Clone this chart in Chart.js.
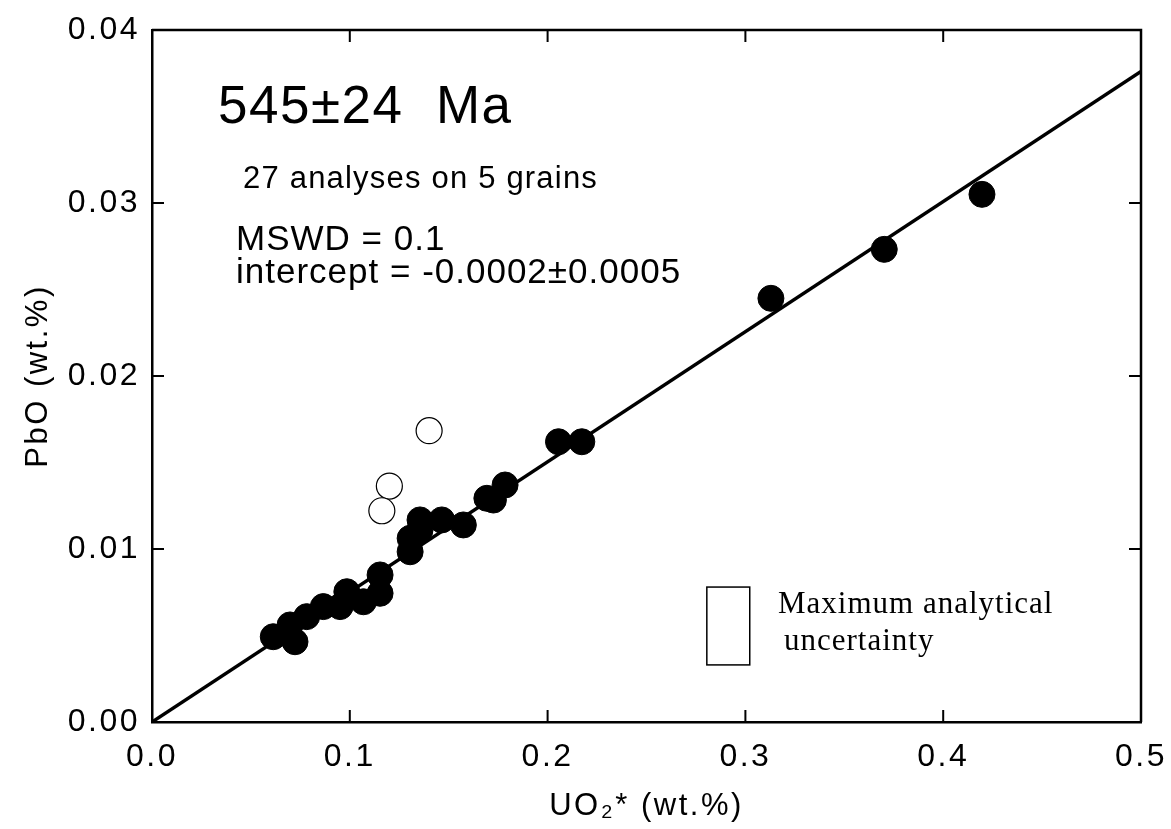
<!DOCTYPE html>
<html>
<head>
<meta charset="utf-8">
<script src="https://cdn.jsdelivr.net/npm/chart.js@4/dist/chart.umd.min.js"></script>
<style>
  body { margin: 0; background: #fff; }
</style>
</head>
<body>
<canvas id="pbChart" width="1171" height="829"></canvas>
<script>
// Analizler (wt.%) - dolu daireler: regresyona giren noktalar
const filledUO2 = [0.0613, 0.0723, 0.0698, 0.0782, 0.0866, 0.0951, 0.0985, 0.1069, 0.1153, 0.1153,
                   0.1305, 0.1305, 0.1355, 0.1355, 0.1465, 0.1574, 0.1693, 0.1726, 0.1785,
                   0.2055, 0.2173, 0.3129, 0.3702, 0.4196];
const filledPbO = [0.00493, 0.00464, 0.00561, 0.00609, 0.00667, 0.00667, 0.00753, 0.00695, 0.00744, 0.00850,
                   0.00984, 0.01062, 0.01110, 0.01168, 0.01168, 0.01139, 0.01293, 0.01283, 0.01370,
                   0.01620, 0.01620, 0.02449, 0.02732, 0.03050];

// Açık daireler: hesaba katılmayan analizler
const openUO2 = [0.1401, 0.1200, 0.1162];
const openPbO = [0.01684, 0.01364, 0.01221];

// İzokron doğrusu
const lineUO2 = [0, 0.5];
const linePbO = [0, 0.0376];

// Maksimum analitik belirsizlik kutusu (veri birimi)
const uncUO2 = [0.2805, 0.3022];
const uncPbO = [0.00330, 0.00780];

// Eksen etiketleri
const xTickLabels = ['0.0', '0.1', '0.2', '0.3', '0.4', '0.5'];
const yTickLabels = ['0.00', '0.01', '0.02', '0.03', '0.04'];
const xInnerTicks = [0.1, 0.2, 0.3, 0.4];
const yInnerTicks = [0.01, 0.02, 0.03];

const toPoints = (xs, ys) => xs.map((x, i) => ({ x: x, y: ys[i] }));

// Çerçeve, iç çentikler ve metinler
const framePlugin = {
    id: 'frame',
    beforeDraw(chart) {
        chart.ctx.letterSpacing = '2.5px';
    },
    beforeDatasetsDraw(chart) {
        chart.ctx.letterSpacing = '0px';
    },
    afterDraw(chart) {
        const ctx = chart.ctx;
        const a = chart.chartArea;
        const xs = chart.scales.x;
        const ys = chart.scales.y;
        ctx.save();
        ctx.letterSpacing = '0px';
        ctx.strokeStyle = '#000';

        // üst ve sağ kenar
        ctx.lineWidth = 2.5;
        ctx.beginPath();
        ctx.moveTo(a.left, a.top);
        ctx.lineTo(a.right, a.top);
        ctx.lineTo(a.right, a.bottom);
        ctx.stroke();

        // içe dönük çentikler
        ctx.lineWidth = 2;
        ctx.beginPath();
        xInnerTicks.forEach(v => {
            const px = xs.getPixelForValue(v);
            ctx.moveTo(px, a.bottom); ctx.lineTo(px, a.bottom - 12);
            ctx.moveTo(px, a.top); ctx.lineTo(px, a.top + 12);
        });
        yInnerTicks.forEach(v => {
            const py = ys.getPixelForValue(v);
            ctx.moveTo(a.left, py); ctx.lineTo(a.left + 12, py);
            ctx.moveTo(a.right, py); ctx.lineTo(a.right - 12, py);
        });
        ctx.stroke();

        // belirsizlik kutusu
        const bx0 = xs.getPixelForValue(uncUO2[0]);
        const bx1 = xs.getPixelForValue(uncUO2[1]);
        const by0 = ys.getPixelForValue(uncPbO[1]);
        const by1 = ys.getPixelForValue(uncPbO[0]);
        ctx.lineWidth = 1.5;
        ctx.strokeRect(bx0, by0, bx1 - bx0, by1 - by0);

        ctx.fillStyle = '#000';
        ctx.textAlign = 'left';
        ctx.textBaseline = 'alphabetic';

        ctx.font = '31px "Liberation Serif", "Times New Roman", serif';
        ctx.letterSpacing = '1px';
        ctx.fillText('Maximum analytical', 778, 613);
        ctx.fillText('uncertainty', 784, 650);

        ctx.font = '53px "Liberation Sans", Arial, sans-serif';
        ctx.letterSpacing = '1.5px';
        ctx.fillText('545±24  Ma', 218, 123);

        ctx.font = '31px "Liberation Sans", Arial, sans-serif';
        ctx.letterSpacing = '1.2px';
        ctx.fillText('27 analyses on 5 grains', 243, 188);

        ctx.font = '35px "Liberation Sans", Arial, sans-serif';
        ctx.letterSpacing = '1px';
        ctx.fillText('MSWD = 0.1', 236, 250);
        ctx.fillText('intercept = -0.0002±0.0005', 236, 283);

        ctx.restore();
    }
};

const ctx = document.getElementById('pbChart').getContext('2d');
new Chart(ctx, {
    type: 'scatter',
    data: {
        datasets: [
            {
                label: 'Open',
                data: toPoints(openUO2, openPbO),
                pointRadius: 13,
                pointBackgroundColor: '#fff',
                pointBorderColor: '#000',
                pointBorderWidth: 1.2,
                order: 1
            },
            {
                label: 'Filled',
                data: toPoints(filledUO2, filledPbO),
                pointRadius: 13,
                pointBackgroundColor: '#000',
                pointBorderColor: '#000',
                pointBorderWidth: 1,
                order: 2
            },
            {
                type: 'line',
                label: 'Isochron',
                data: toPoints(lineUO2, linePbO),
                borderColor: '#000',
                borderWidth: 3.5,
                pointRadius: 0,
                fill: false,
                order: 0
            }
        ]
    },
    options: {
        responsive: false,
        animation: false,
        layout: { padding: { top: 30, right: 30, left: 0, bottom: 0 } },
        plugins: {
            legend: { display: false },
            tooltip: { enabled: false }
        },
        scales: {
            x: {
                type: 'linear',
                min: 0,
                max: 0.5,
                afterFit(scale) {
                    scale.height = 107;
                    scale.paddingLeft = 0;
                    scale.paddingRight = 0;
                },
                ticks: {
                    stepSize: 0.1,
                    padding: 16,
                    color: '#000',
                    maxRotation: 0,
                    font: { family: '"Liberation Sans", Arial, sans-serif', size: 32 },
                    callback: (v, i) => xTickLabels[i]
                },
                grid: { display: false, drawTicks: false },
                border: { display: true, color: '#000', width: 2.5 },
                title: {
                    display: true,
                    text: 'UO₂* (wt.%)',
                    color: '#000',
                    padding: { top: 0, bottom: 4 },
                    font: { family: '"Liberation Sans", Arial, sans-serif', size: 31 }
                }
            },
            y: {
                type: 'linear',
                min: 0,
                max: 0.04,
                afterFit(scale) {
                    scale.width = 152;
                    scale.paddingTop = 0;
                    scale.paddingBottom = 0;
                },
                ticks: {
                    stepSize: 0.01,
                    padding: 12,
                    color: '#000',
                    font: { family: '"Liberation Sans", Arial, sans-serif', size: 32 },
                    callback: (v, i) => yTickLabels[i]
                },
                grid: { display: false, drawTicks: false },
                border: { display: true, color: '#000', width: 2.5 },
                title: {
                    display: true,
                    text: 'PbO (wt.%)',
                    color: '#000',
                    padding: { top: 20, bottom: 0 },
                    font: { family: '"Liberation Sans", Arial, sans-serif', size: 31 }
                }
            }
        }
    },
    plugins: [framePlugin]
});
</script>
</body>
</html>
